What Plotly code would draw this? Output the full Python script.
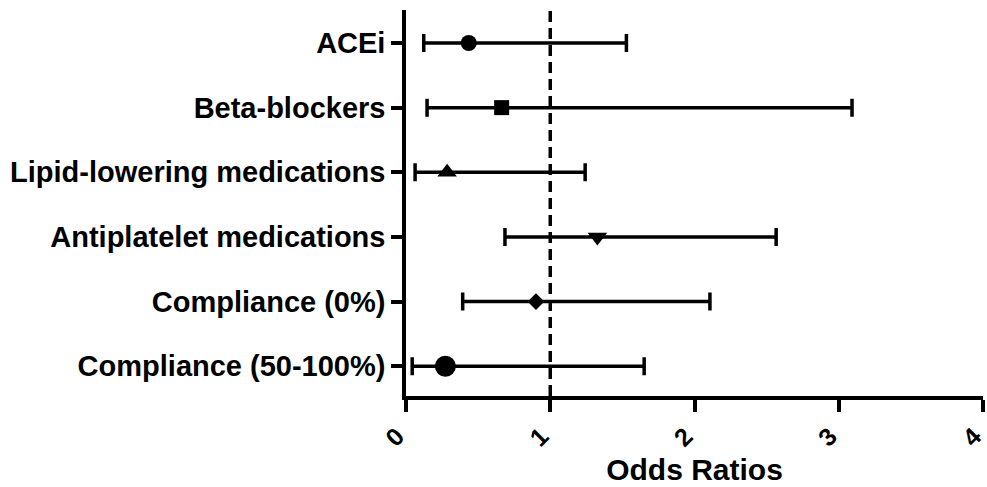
import plotly.graph_objects as go

# Forest plot: odds ratios with 95% confidence intervals
labels = [
    "ACEi",
    "Beta-blockers",
    "Lipid-lowering medications",
    "Antiplatelet medications",
    "Compliance (0%)",
    "Compliance (50-100%)",
]
odds_ratio = [0.435, 0.663, 0.285, 1.327, 0.901, 0.273]
ci_low = [0.123, 0.146, 0.063, 0.686, 0.393, 0.043]
ci_high = [1.528, 3.092, 1.242, 2.566, 2.107, 1.651]
symbols = ["circle", "square", "triangle-up", "triangle-down", "diamond", "circle"]
sizes = [16, 15, 17, 17, 13, 21]

# numeric row positions, first label at the top
rows = list(range(len(labels) - 1, -1, -1))

font_family = "Liberation Sans, Arial, Helvetica, sans-serif"
lw = 3.5

fig = go.Figure()
fig.add_trace(
    go.Scatter(
        x=odds_ratio,
        y=rows,
        mode="markers",
        marker=dict(symbol=symbols, size=sizes, color="black", opacity=1,
                    line=dict(width=0)),
        error_x=dict(
            type="data",
            symmetric=False,
            array=[h - o for h, o in zip(ci_high, odds_ratio)],
            arrayminus=[o - l for o, l in zip(odds_ratio, ci_low)],
            color="black",
            thickness=lw,
            width=9,
        ),
        showlegend=False,
        hoverinfo="skip",
    )
)

# reference line at OR = 1
fig.add_shape(
    type="line",
    x0=1, x1=1, y0=0, y1=1,
    xref="x", yref="paper",
    line=dict(color="black", width=lw, dash="11px,6px"),
    layer="below",
)

fig.update_layout(
    width=987,
    height=487,
    margin=dict(l=406, r=4, t=10, b=91),
    plot_bgcolor="white",
    paper_bgcolor="white",
    font=dict(family=font_family, color="black", size=29, weight="bold"),
    xaxis=dict(
        range=[0, 4],
        tickvals=[0, 1, 2, 3, 4],
        ticktext=["0", "1", "2", "3", "4"],
        tickangle=-45,
        tickfont=dict(size=25, family=font_family, weight="bold"),
        ticklabeloverflow="allow",
        ticklabelshift=-9,
        automargin=False,
        ticks="outside",
        ticklen=12,
        tickwidth=lw,
        tickcolor="black",
        showline=True,
        linecolor="black",
        linewidth=lw,
        showgrid=False,
        zeroline=False,
        title=dict(
            text="Odds Ratios",
            font=dict(size=30, family=font_family, weight="bold"),
            standoff=10,
        ),
    ),
    yaxis=dict(
        range=[-0.46, 5.51],
        tickvals=rows,
        ticktext=labels,
        tickfont=dict(size=29, family=font_family, weight="bold"),
        automargin=False,
        ticks="outside",
        ticklen=11,
        tickwidth=lw,
        tickcolor="black",
        showline=True,
        linecolor="black",
        linewidth=lw,
        showgrid=False,
        zeroline=False,
    ),
)

fig.write_html("out.html")
